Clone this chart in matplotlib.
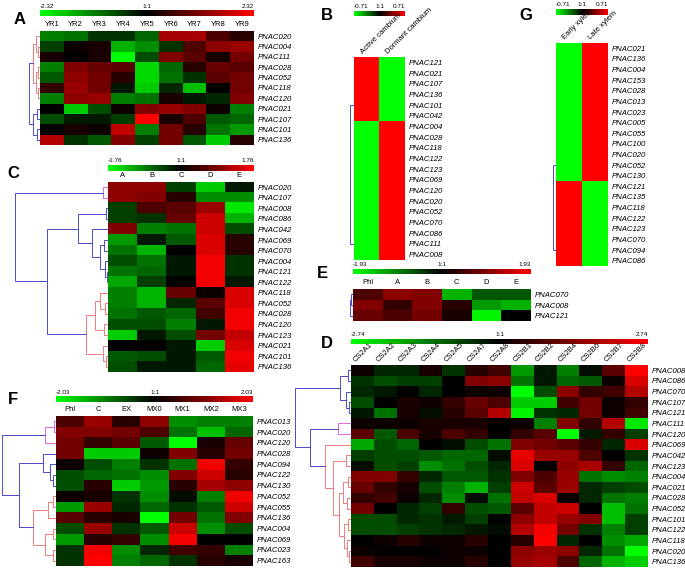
import numpy as np
import matplotlib
matplotlib.use("Agg")
import matplotlib.pyplot as plt
from matplotlib.colors import LinearSegmentedColormap

plt.rcParams["font.family"] = ["Liberation Sans", "DejaVu Sans"]

W, H = 685, 569

# ---------------- data (scaled to -1..1 of each panel's colour range) ----------------
a_cols = ["YR1", "YR2", "YR3", "YR4", "YR5", "YR6", "YR7", "YR8", "YR9"]
a_rows = ["PNAC020", "PNAC004", "PNAC111", "PNAC028", "PNAC052", "PNAC118",
          "PNAC120", "PNAC021", "PNAC107", "PNAC101", "PNAC136"]
a_vals = [
    [-0.5, -0.45, -0.2, -0.2, -0.4, 0.65, 0.65, 0.3, 0.15],
    [-0.25, 0.05, 0.1, -0.7, -0.55, -0.2, 0.3, 0.55, 0.6],
    [0.1, 0.0, 0.1, -1.0, -0.3, 0.5, 0.35, 0.1, 0.45],
    [-0.5, 0.5, 0.4, 0.35, -0.85, -0.4, 0.15, 0.4, 0.35],
    [-0.35, 0.55, 0.45, 0.15, -0.85, -0.45, -0.2, 0.35, 0.45],
    [0.2, 0.6, 0.45, -0.1, -0.8, -0.15, -0.75, 0.0, 0.45],
    [-0.5, 0.55, 0.6, -0.5, -0.45, 0.1, -0.1, -0.15, 0.5],
    [0.0, -0.8, -0.3, 0.05, 0.5, 0.6, 0.5, 0.05, -0.5],
    [-0.3, -0.1, -0.1, -0.25, 1.0, 0.1, 0.3, -0.35, -0.4],
    [0.0, 0.1, 0.05, 0.75, -0.5, 0.45, 0.15, -0.45, -0.6],
    [0.7, -0.2, -0.35, 0.5, -0.25, 0.45, -0.35, -0.8, 0.15],
]
a_range = "2.32"

b_cols = ["Active cambium", "Dormant cambium"]
b_rows = ["PNAC121", "PNAC021", "PNAC107", "PNAC136", "PNAC101", "PNAC042",
          "PNAC004", "PNAC028", "PNAC118", "PNAC122", "PNAC123", "PNAC069",
          "PNAC120", "PNAC020", "PNAC052", "PNAC070", "PNAC086", "PNAC111", "PNAC008"]
b_vals = [[1, -1], [1, -1], [1, -1], [1, -1], [1, -1], [1, -1],
          [-1, 1], [-1, 1], [-1, 1], [-1, 1], [-1, 1], [-1, 1], [-1, 1],
          [-1, 1], [-1, 1], [-1, 1], [-1, 1], [-1, 1], [-1, 1]]
b_range = "0.71"

g_cols = ["Early xylem", "Late xylem"]
g_rows = ["PNAC021", "PNAC136", "PNAC004", "PNAC153", "PNAC028", "PNAC013",
          "PNAC023", "PNAC005", "PNAC055", "PNAC100", "PNAC020", "PNAC052",
          "PNAC130", "PNAC121", "PNAC135", "PNAC118", "PNAC122", "PNAC123",
          "PNAC070", "PNAC094", "PNAC086"]
g_vals = [[-1, 1], [-1, 1], [-1, 1], [-1, 1], [-1, 1], [-1, 1], [-1, 1],
          [-1, 1], [-1, 1], [-1, 1], [-1, 1], [-1, 1], [-1, 1],
          [1, -1], [1, -1], [1, -1], [1, -1], [1, -1], [1, -1], [1, -1], [1, -1]]
g_range = "0.71"

c_cols = ["A", "B", "C", "D", "E"]
c_rows = ["PNAC020", "PNAC107", "PNAC008", "PNAC086", "PNAC042", "PNAC069",
          "PNAC070", "PNAC004", "PNAC121", "PNAC122", "PNAC118", "PNAC052",
          "PNAC028", "PNAC120", "PNAC123", "PNAC021", "PNAC101", "PNAC136"]
c_vals = [
    [0.55, 0.55, -0.25, -0.8, -0.1],
    [0.55, 0.5, 0.15, -0.55, -0.55],
    [-0.25, 0.3, 0.35, 0.6, -0.9],
    [-0.25, -0.2, 0.4, 0.8, -0.7],
    [0.5, -0.5, -0.45, 0.8, -0.3],
    [-0.6, -0.1, -0.35, 0.85, 0.15],
    [-0.45, -0.7, 0.0, 0.85, 0.15],
    [-0.3, -0.45, -0.1, 0.95, -0.2],
    [-0.45, -0.4, -0.1, 0.95, -0.2],
    [-0.65, -0.25, 0.0, 0.95, -0.1],
    [-0.5, -0.7, 0.4, 0.05, 0.85],
    [-0.5, -0.7, -0.15, 0.35, 0.85],
    [-0.45, -0.35, -0.4, 0.25, 0.95],
    [-0.3, -0.3, -0.5, -0.1, 0.95],
    [-0.8, -0.1, -0.3, 0.45, 0.75],
    [0.0, 0.0, -0.1, -0.8, 0.85],
    [-0.35, -0.3, -0.1, -0.35, 0.95],
    [-0.3, -0.1, -0.1, -0.4, 0.9],
]
c_range = "1.76"

e_cols = ["Phl", "A", "B", "C", "D", "E"]
e_rows = ["PNAC070", "PNAC008", "PNAC121"]
e_vals = [
    [0.3, 0.55, 0.5, -0.7, -0.35, -0.35],
    [0.5, 0.2, 0.5, 0.15, -0.6, -0.7],
    [0.4, 0.3, 0.45, 0.1, -0.95, 0.0],
]
e_range = "1.93"

f_cols = ["Phl", "C", "EX", "MX0", "MX1", "MX2", "MX3"]
f_rows = ["PNAC013", "PNAC020", "PNAC120", "PNAC028", "PNAC094", "PNAC122",
          "PNAC130", "PNAC052", "PNAC055", "PNAC136", "PNAC004", "PNAC069",
          "PNAC023", "PNAC163"]
f_vals = [
    [0.3, 0.6, 0.15, 0.55, -0.55, -0.5, -0.5],
    [0.5, 0.5, 0.45, 0.3, -0.45, -0.75, -0.4],
    [0.45, 0.2, 0.35, -0.35, -1.0, 0.1, 0.4],
    [0.45, -0.8, -0.8, 0.05, 0.5, 0.15, 0.45],
    [0.05, -0.3, -0.5, -0.2, -0.45, 0.95, 0.2],
    [-0.3, -0.4, -0.45, -0.55, 0.5, 0.8, 0.15],
    [-0.3, 0.15, -0.8, -0.6, 0.15, 0.65, 0.55],
    [0.05, 0.1, -0.2, -0.55, -0.05, -0.5, 0.95],
    [-0.6, 0.6, -0.15, -0.4, -0.2, -0.35, 0.8],
    [0.35, 0.15, 0.1, -1.0, 0.45, -0.45, 0.5],
    [-0.3, 0.6, -0.2, -0.35, 0.8, -0.55, -0.3],
    [-0.6, 0.15, 0.2, -0.55, 0.95, 0.0, 0.0],
    [-0.2, 0.95, -0.55, -0.15, 0.25, 0.2, -0.5],
    [-0.2, 1.0, -0.5, -0.4, -0.2, 0.15, 0.1],
]
f_range = "2.03"

d_cols = ["CS2A1", "CS2A2", "CS2A3", "CS2A4", "CS2A5", "CS2A7", "CS2A8",
          "CS2B1", "CS2B2", "CS2B4", "CS2B6", "CS2B7", "CS2B8"]
d_rows = ["PNAC008", "PNAC086", "PNAC070", "PNAC107", "PNAC121", "PNAC111",
          "PNAC120", "PNAC069", "PNAC042", "PNAC123", "PNAC004", "PNAC021",
          "PNAC028", "PNAC052", "PNAC101", "PNAC122", "PNAC118", "PNAC020", "PNAC136"]
d_vals = [
    [0.05, -0.15, -0.15, 0.1, -0.2, 0.15, 0.25, -0.6, -0.1, -0.5, -0.05, 0.35, 1.0],
    [-0.2, -0.3, -0.25, -0.25, 0.0, 0.5, 0.55, -0.45, -0.1, -0.4, -0.35, 0.05, 0.85],
    [-0.15, -0.1, 0.0, -0.15, 0.0, 0.05, 0.05, -1.0, -0.3, 0.55, 0.2, 0.25, 0.7],
    [-0.3, 0.0, 0.1, 0.05, 0.2, 0.4, 0.3, -0.8, -0.8, 0.25, 0.45, 0.05, 0.2],
    [-0.1, -0.45, 0.1, -0.05, 0.15, 0.35, 0.7, -0.95, -0.2, -0.15, 0.45, 0.05, 0.25],
    [0.05, 0.05, 0.05, 0.1, 0.1, 0.1, 0.0, 0.05, -0.5, 0.5, 0.2, 0.7, -0.9],
    [0.35, -0.35, 0.3, 0.1, 0.3, 0.2, 0.0, 0.2, 0.35, -1.0, -0.1, 0.2, -0.25],
    [-0.65, -0.3, -0.4, 0.0, -0.05, -0.3, -0.45, 0.5, 0.45, 0.35, 0.2, -0.15, 0.85],
    [-0.25, -0.3, -0.3, -0.35, -0.4, -0.4, -0.05, 0.9, 0.6, 0.6, 0.3, 0.0, -0.2],
    [-0.05, -0.3, -0.25, -0.55, -0.45, -0.3, -0.15, 0.85, 0.0, 0.55, 0.65, 0.2, -0.4],
    [0.5, 0.5, 0.2, -0.15, -0.35, -0.35, -0.2, 0.5, 0.3, 0.6, -0.45, -0.55, -0.5],
    [0.4, 0.2, 0.1, -0.3, -0.5, -0.7, -0.25, 0.8, 0.35, 0.6, -0.15, -0.25, -0.3],
    [0.2, 0.25, 0.05, -0.15, -0.55, -0.05, -0.45, 0.75, 0.85, 0.05, -0.15, -0.45, -0.5],
    [0.45, 0.0, -0.15, -0.25, 0.2, -0.3, -0.35, 0.35, 0.75, 0.8, 0.0, -0.75, -0.45],
    [-0.3, -0.3, -0.15, -0.2, -0.1, -0.25, 0.0, 0.55, 0.75, 0.6, 0.5, -0.75, -0.25],
    [-0.3, -0.3, -0.25, -0.2, -0.15, -0.1, -0.05, 0.7, 0.95, 0.45, -0.2, -0.5, -0.25],
    [0.0, 0.05, 0.15, 0.05, 0.05, 0.15, 0.0, 0.15, 1.0, -0.15, 0.0, -0.55, -0.65],
    [0.05, 0.0, 0.0, 0.0, 0.05, 0.05, 0.0, 0.55, 0.6, 0.55, -0.15, -0.45, -1.0],
    [0.25, 0.1, 0.1, 0.05, 0.05, 0.15, 0.0, 0.6, 0.65, 0.3, -0.4, -0.7, -0.8],
]
d_range = "2.74"

# dendrograms: (left, right, merge height in px, optional colour)
a_tree = (((0, (1, 2, 2), 4), ((3, 4, 2), (5, 6, 2), 4), 7, "red"),
          ((7, 8, 3), (9, 10, 3), 7, "blue"), 11, "blue")
c_tree = ((0, 1, 5, "pink"),
          (((2, 3, 2), (4, ((5, 6, 4), (7, (8, 9, 1), 3), 8), 16), 30, "blue"),
           (((10, (11, 12, 3), 8), (13, 14, 4), 13), (15, (16, 17, 2), 5), 22, "red"),
           61, "blue"),
          93, "blue")
f_tree = (((0, 1, 2), 2, 11, "pink"),
          ((3, (4, (5, 6, 3), 6), 13, "blue"),
           (((7, 8, 3), 9, 8), ((10, 11, 3), (12, 13, 3), 11), 23, "red"),
           37, "blue"),
          54, "blue")
d_tree = (((0, 1, 3), (2, (3, 4, 2), 5), 11, "blue"),
          ((5, 6, 13, "pink"),
           (7, ((8, 9, 5), (((10, 11, 3), (12, 13, 4), 8),
                            ((14, 15, 3), (16, (17, 18, 2), 4), 7), 12), 18), 26, "red"),
           41, "blue"),
          56, "blue")
e_tree = ((0, 1, 1.5), 2, 3, "blue")
b_groups = [[0, 1, 2, 3, 4, 5], [6, 7, 8, 9, 10, 11, 12, 13, 14, 15, 16, 17, 18]]
g_groups = [[0, 1, 2, 3, 4, 5, 6, 7, 8, 9, 10, 11, 12], [13, 14, 15, 16, 17, 18, 19, 20]]

TREE_COLORS = {"blue": "#4b4bd0", "red": "#f07c7c", "pink": "#e066e0", "grey": "#7a7ac0"}

cmap = LinearSegmentedColormap.from_list("gkr", ["#00ff00", "#000000", "#ff0000"])

fig = plt.figure(figsize=(6.85, 5.69), dpi=100)


def px_axes(x0, y0, x1, y1):
    return fig.add_axes([x0 / W, 1 - y1 / H, (x1 - x0) / W, (y1 - y0) / H])


def ftext(x, y, s, **kw):
    fig.text(x / W, 1 - y / H, s, **kw)


def heatmap(box, vals, rows, cols, rotated=False, shift=0.0):
    ax = px_axes(*box)
    ax.imshow(np.array(vals), cmap=cmap, vmin=-1, vmax=1, aspect="auto",
              interpolation="nearest")
    ax.set_yticks(range(len(rows)))
    ax.set_yticklabels(rows, fontstyle="italic", fontsize=5.6)
    ax.yaxis.tick_right()
    ax.tick_params(length=0, pad=2.5)
    for s in ax.spines.values():
        s.set_visible(False)
    if rotated:
        ax.set_xticks([])
        for i, c in enumerate(cols):
            ax.text(i + shift, 1.01, c, transform=ax.get_xaxis_transform(),
                    rotation=45, ha="left", va="bottom", rotation_mode="anchor",
                    fontsize=5.5)
    else:
        ax.xaxis.tick_top()
        ax.set_xticks(range(len(cols)))
        ax.set_xticklabels(cols, fontsize=5.5)
    return ax


def colorbar(x0, y0, x1, y1, rng):
    ax = px_axes(x0, y0, x1, y1)
    ax.imshow(np.linspace(-1, 1, 256)[None, :], cmap=cmap, aspect="auto")
    ax.axis("off")
    ftext(x0, y0 - 1.5, "-" + rng, ha="left", va="bottom", fontsize=4.6)
    ftext((x0 + x1) / 2, y0 - 1.5, "1:1", ha="center", va="bottom", fontsize=4.6)
    ftext(x1, y0 - 1.5, rng, ha="right", va="bottom", fontsize=4.6)


def draw_tree(ax, node, color):
    if isinstance(node, int):
        return float(node), 0.0
    left, right, h = node[:3]
    if len(node) > 3:
        color = TREE_COLORS[node[3]]
    yl, hl = draw_tree(ax, left, color)
    yr, hr = draw_tree(ax, right, color)
    ax.plot([hl, h, h, hr], [yl, yl, yr, yr], color=color, lw=0.7)
    return (yl + yr) / 2, h


def flat(rows, h):
    node = rows[0]
    for r in rows[1:]:
        node = (node, r, h)
    return node


def dendro(x0, y0, x1, y1, tree, nrows):
    ax = px_axes(x0, y0, x1, y1)
    draw_tree(ax, tree, TREE_COLORS["blue"])
    ax.set_xlim(x1 - x0, 0)
    ax.set_ylim(nrows - 0.5, -0.5)
    ax.axis("off")


# ---- A ----
colorbar(40, 10, 254, 16, a_range)
heatmap((40, 31, 254, 145), a_vals, a_rows, a_cols)
dendro(28, 31, 40, 145, a_tree, len(a_rows))
ftext(20, 20, "A", fontsize=12, fontweight="bold", ha="center", va="center")

# ---- B ----
colorbar(354, 11, 405, 16, b_range)
heatmap((354, 57, 405, 260), b_vals, b_rows, b_cols, rotated=True, shift=-0.1)
dendro(348, 57, 354, 260, (flat(b_groups[0], 0.2), flat(b_groups[1], 0.2), 3.5),
       len(b_rows))
ftext(327, 16, "B", fontsize=12, fontweight="bold", ha="center", va="center")

# ---- G ----
colorbar(556, 9, 608, 15, g_range)
heatmap((556, 43, 608, 266), g_vals, g_rows, g_cols, rotated=True, shift=-0.1)
dendro(550, 43, 556, 266, (flat(g_groups[0], 0.2), flat(g_groups[1], 0.2), 3.5),
       len(g_rows))
ftext(526, 16, "G", fontsize=12, fontweight="bold", ha="center", va="center")

# ---- C ----
colorbar(108, 165, 254, 171, c_range)
heatmap((108, 182, 254, 372), c_vals, c_rows, c_cols)
dendro(14, 182, 108, 372, c_tree, len(c_rows))
ftext(13, 173, "C", fontsize=12, fontweight="bold", ha="center", va="center")

# ---- E ----
colorbar(353, 269, 531, 274, e_range)
heatmap((353, 289, 531, 321), e_vals, e_rows, e_cols)
dendro(348, 289, 353, 321, e_tree, len(e_rows))
ftext(322, 273, "E", fontsize=12, fontweight="bold", ha="center", va="center")

# ---- F ----
colorbar(56, 396, 253, 402, f_range)
heatmap((56, 416, 253, 566), f_vals, f_rows, f_cols)
dendro(1, 416, 56, 566, f_tree, len(f_rows))
ftext(13, 400, "F", fontsize=12, fontweight="bold", ha="center", va="center")

# ---- D ----
colorbar(351, 339, 648, 344, d_range)
heatmap((351, 365, 648, 567), d_vals, d_rows, d_cols, rotated=True, shift=-0.25)
dendro(294, 365, 351, 567, d_tree, len(d_rows))
ftext(327, 344, "D", fontsize=12, fontweight="bold", ha="center", va="center")

fig.savefig("out.png", dpi=100, facecolor="white")
